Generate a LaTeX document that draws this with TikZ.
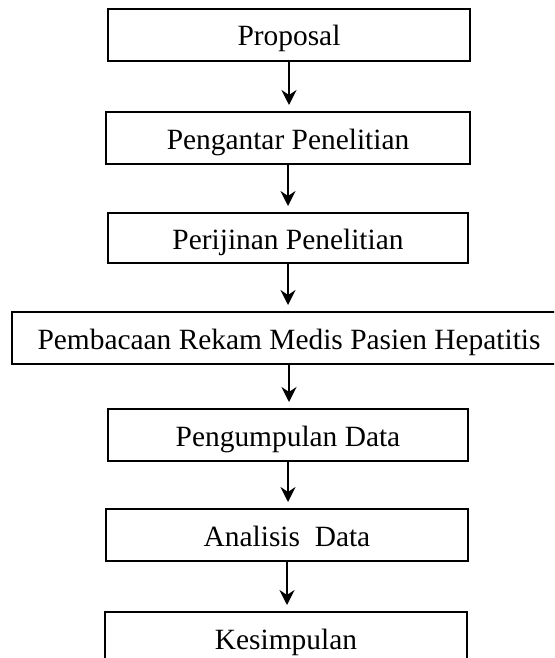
\documentclass[tikz,border=0pt]{standalone}
\usepackage{fontspec}
\setmainfont{Liberation Serif}
\usetikzlibrary{arrows.meta}
\begin{document}
\begin{tikzpicture}[x=0.5pt,y=-0.5pt,
  box/.style={draw, line width=1pt, inner sep=0pt, text height=11pt, text depth=0pt,
    font=\fontsize{14.7}{17}\selectfont, minimum height=26pt},
  arr/.style={line width=1pt, -{Stealth[length=7.5pt,width=7.5pt,inset=2.5pt]}, shorten >=3pt}]
\useasboundingbox (0,0) rectangle (554,658);
\fill[white] (0,0) rectangle (554,658);
\clip (0,0) rectangle (554,658);
\node[box, minimum width=181pt] (n1) at (289,35) {Proposal};
\node[box, minimum width=182pt] (n2) at (288,138) {Pengantar Penelitian};
\node[box, minimum width=180pt, minimum height=25pt] (n3) at (288,238) {Perijinan Penelitian};
\node[box, minimum width=277pt] (n4) at (289,338) {Pembacaan Rekam Medis Pasien Hepatitis};
\node[box, minimum width=180pt] (n5) at (288,435) {Pengumpulan Data};
\node[box, minimum width=181pt] (n6) at (287,535) {Analisis\ \ Data};
\node[box, minimum width=181pt] (n7) at (286,638) {Kesimpulan};
\draw[arr] (n1.south) -- (n1.south |- n2.north);
\draw[arr] (n2.south) -- (n2.south |- n3.north);
\draw[arr] (n3.south) -- (n3.south |- n4.north);
\draw[arr] (n4.south) -- (n4.south |- n5.north);
\draw[arr] (n5.south) -- (n5.south |- n6.north);
\draw[arr] (n6.south) -- (n6.south |- n7.north);
\end{tikzpicture}
\end{document}
